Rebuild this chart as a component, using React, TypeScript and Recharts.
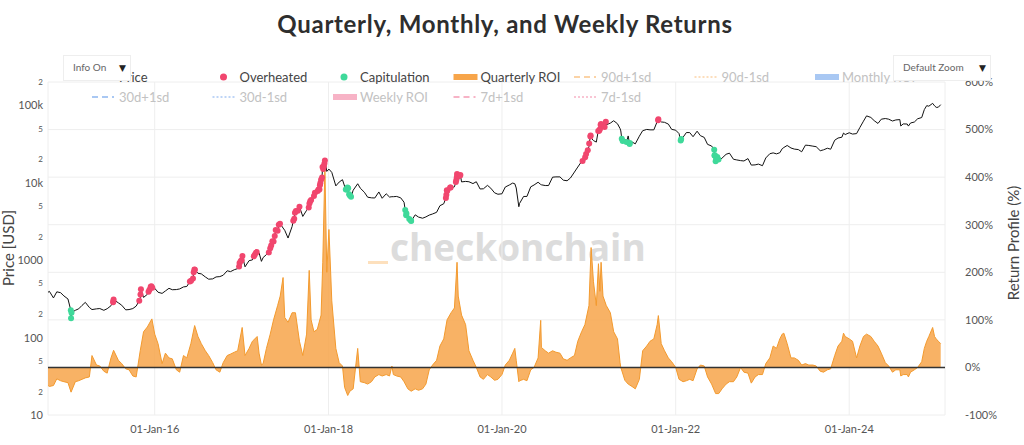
import { ComposedChart, Line, Area, Scatter, XAxis, YAxis, CartesianGrid, ReferenceLine } from 'recharts';

// sample dates (semi-monthly, plus a few peak / trough days)
const dates = [
  '2014-10-09', '2014-10-15', '2014-11-01', '2014-11-15', '2014-12-01', '2014-12-15',
  '2015-01-01', '2015-01-14', '2015-02-01', '2015-02-15', '2015-03-01', '2015-03-15', '2015-04-01', '2015-04-12', '2015-05-01', '2015-05-15', '2015-06-01', '2015-06-15', '2015-07-01', '2015-07-12', '2015-08-01', '2015-08-15', '2015-09-01', '2015-09-15', '2015-10-01', '2015-10-15', '2015-11-01', '2015-11-15', '2015-12-01', '2015-12-20',
  '2016-01-01', '2016-01-15', '2016-02-01', '2016-02-15', '2016-03-01', '2016-03-15', '2016-04-01', '2016-04-15', '2016-05-01', '2016-05-15', '2016-06-01', '2016-06-17', '2016-07-01', '2016-07-15', '2016-08-01', '2016-08-15', '2016-09-01', '2016-09-15', '2016-10-01', '2016-10-15', '2016-11-01', '2016-11-15', '2016-12-01', '2016-12-15',
  '2017-01-03', '2017-01-15', '2017-02-01', '2017-02-15', '2017-03-07', '2017-03-15', '2017-03-25', '2017-04-01', '2017-04-15', '2017-05-01', '2017-05-15', '2017-06-01', '2017-06-12', '2017-06-24', '2017-07-01', '2017-07-15', '2017-08-01', '2017-08-15', '2017-09-01', '2017-09-15', '2017-10-01', '2017-10-12', '2017-10-20', '2017-11-01', '2017-11-15', '2017-12-01', '2017-12-08', '2017-12-17', '2017-12-25',
  '2018-01-03', '2018-01-15', '2018-02-01', '2018-02-15', '2018-03-01', '2018-03-10', '2018-03-23', '2018-04-01', '2018-04-15', '2018-05-04', '2018-05-15', '2018-06-01', '2018-06-15', '2018-07-01', '2018-07-15', '2018-08-01', '2018-08-15', '2018-09-01', '2018-09-15', '2018-09-25', '2018-10-01', '2018-10-15', '2018-11-01', '2018-11-15', '2018-12-01', '2018-12-15',
  '2019-01-01', '2019-01-15', '2019-02-01', '2019-02-15', '2019-03-01', '2019-03-15', '2019-04-01', '2019-04-15', '2019-05-01', '2019-05-15', '2019-06-01', '2019-06-15', '2019-06-26', '2019-07-01', '2019-07-15', '2019-08-01', '2019-08-15', '2019-09-01', '2019-09-15', '2019-10-01', '2019-10-15', '2019-11-01', '2019-11-15', '2019-12-01', '2019-12-15',
  '2020-01-01', '2020-01-15', '2020-02-01', '2020-02-15', '2020-02-24', '2020-03-01', '2020-03-12', '2020-03-15', '2020-04-01', '2020-04-15', '2020-05-01', '2020-05-15', '2020-06-01', '2020-06-12', '2020-06-15', '2020-07-01', '2020-07-15', '2020-08-01', '2020-08-15', '2020-09-01', '2020-09-15', '2020-10-01', '2020-10-15', '2020-11-01', '2020-11-15', '2020-12-01', '2020-12-15',
  '2021-01-01', '2021-01-10', '2021-01-20', '2021-02-01', '2021-02-10', '2021-02-16', '2021-02-21', '2021-03-01', '2021-03-15', '2021-04-01', '2021-04-15', '2021-05-01', '2021-05-12', '2021-05-15', '2021-06-01', '2021-06-15', '2021-07-01', '2021-07-15', '2021-08-01', '2021-08-15', '2021-09-01', '2021-09-15', '2021-10-01', '2021-10-15', '2021-10-20', '2021-11-01', '2021-11-15', '2021-12-01', '2021-12-15',
  '2022-01-01', '2022-01-15', '2022-02-01', '2022-02-15', '2022-03-01', '2022-03-15', '2022-04-01', '2022-04-15', '2022-05-01', '2022-05-15', '2022-06-01', '2022-06-18', '2022-07-01', '2022-07-15', '2022-08-01', '2022-08-15', '2022-09-01', '2022-09-15', '2022-10-01', '2022-10-15', '2022-11-01', '2022-11-15', '2022-12-01', '2022-12-15',
  '2023-01-01', '2023-01-15', '2023-02-01', '2023-02-15', '2023-03-01', '2023-03-15', '2023-03-25', '2023-04-01', '2023-04-15', '2023-05-01', '2023-05-15', '2023-06-01', '2023-06-15', '2023-07-01', '2023-07-15', '2023-08-01', '2023-08-15', '2023-09-01', '2023-09-15', '2023-10-01', '2023-10-15', '2023-11-01', '2023-11-15', '2023-12-01', '2023-12-08', '2023-12-15',
  '2024-01-01', '2024-01-15', '2024-02-01', '2024-02-15', '2024-03-01', '2024-03-14', '2024-04-01', '2024-04-15', '2024-05-01', '2024-05-15', '2024-06-01', '2024-06-15', '2024-07-01', '2024-07-15', '2024-08-01', '2024-08-05', '2024-08-15', '2024-09-01', '2024-09-06', '2024-09-15', '2024-10-01', '2024-10-15', '2024-11-01', '2024-11-12', '2024-11-22', '2024-12-01', '2024-12-17', '2024-12-25',
  '2025-01-01', '2025-01-10', '2025-01-20',
];

// BTC price (USD)
const price = [
  385, 395, 325, 390, 380, 345,
  315, 178, 225, 235, 260, 285, 245, 230, 235, 237, 225, 236, 258, 310, 281, 262, 228, 230, 237, 255, 325, 330, 362, 440,
  434, 385, 372, 400, 433, 415, 417, 425, 451, 457, 536, 760, 676, 665, 607, 568, 573, 607, 613, 638, 729, 711, 753, 778,
  1030, 820, 985, 1008, 1250, 1245, 965, 1080, 1180, 1420, 1740, 2400, 2950, 2600, 2430, 1930, 2720, 4170, 4890, 3670, 4400, 5400, 6000, 6750, 7310, 10850, 16000, 19400, 14000,
  15000, 13600, 9100, 10200, 10950, 9000, 8700, 6850, 8000, 9700, 8500, 7540, 6500, 6380, 6350, 7600, 6300, 7200, 6530, 6600, 6600, 6650, 6380, 5600, 4200, 3250,
  3850, 3600, 3480, 3620, 3820, 3950, 4150, 5050, 5350, 8200, 8550, 8850, 12900, 10600, 10250, 10400, 10300, 9750, 10300, 8300, 8350, 9250, 8500, 7400, 7100,
  7200, 8800, 9350, 9900, 9700, 8550, 4900, 5400, 6650, 6650, 8850, 9350, 10150, 9500, 9400, 9200, 9200, 11800, 11900, 11900, 10800, 10600, 11500, 13750, 15950, 18800, 19400,
  29400, 38000, 35000, 33500, 44800, 49000, 57500, 49600, 56000, 58900, 63200, 57800, 50000, 46700, 36700, 40200, 33600, 31800, 39900, 47000, 48800, 48200, 48200, 61500, 66000, 61000, 60300, 57200, 48900,
  47700, 43100, 38700, 44500, 44400, 39300, 46300, 40500, 38500, 31300, 29800, 19000, 19300, 20800, 23300, 24100, 20100, 19700, 19300, 19100, 20500, 16900, 17000, 17400,
  16600, 20900, 23700, 24300, 23600, 24400, 27500, 28500, 30300, 28100, 27200, 26800, 25100, 30600, 30300, 29700, 29200, 25900, 26600, 27900, 27100, 35400, 37800, 38700, 43800, 41900,
  44200, 42500, 43100, 51800, 62400, 73000, 69700, 63400, 58300, 66200, 67500, 66200, 62700, 64700, 65400, 54000, 57500, 57300, 53900, 59100, 60800, 67000, 69500, 88000, 99000, 97400, 106000, 98500,
  94000, 94500, 102000,
];

// quarterly ROI (%)
const quarterlyRoi = [
  -38, -40, -38, -24, -28, -30,
  -32, -52, -30, -28, -25, -22, -20, 25, 5, 3, -8, -12, 20, 36, 15, 8, -3, -5, -18, -20, 35, 75, 85, 102,
  70, 50, 8, 30, 20, 18, -5, -10, 25, 20, 50, 88, 65, 50, 35, 25, 10, -5, -10, 10, 25, 28, 32, 35,
  84, 25, 40, 55, 65, 30, 5, 8, 40, 70, 100, 130, 150, 189, 105, 95, 115, 115, 55, 25, 70, 204, 100, 75, 80, 110, 220, 420, 200,
  290, 140, 40, 10, 3, -42, -59, -50, -45, 40, -30, -32, -35, -30, -20, -15, -18, -15, -18, 3, -15, -18, -20, -30, -45, -50,
  -45, -48, -45, -35, -5, 5, 15, 45, 60, 100, 115, 125, 221, 150, 110, 90, 35, 15, 0, -20, -25, -15, -20, -27, -25,
  -15, 5, 15, 30, 40, 15, -30, -28, -25, -28, -5, 0, 20, 99, 42, 35, 30, 35, 32, 30, 18, 15, 20, 25, 55, 75, 90,
  130, 252, 180, 130, 218, 160, 221, 150, 130, 115, 75, 60, 10, 0, -27, -35, -40, -45, -25, 35, 45, 55, 60, 90, 109, 50, 35, 20, 12,
  0, -25, -30, -28, -25, -28, -3, 5, 3, -20, -35, -55, -55, -45, -35, -30, -30, -20, 0, -10, -12, -33, -20, -15,
  -15, 8, 20, 45, 40, 60, 70, 72, 50, 20, 20, 15, 5, 8, 5, 5, 3, -8, -10, -5, -3, 25, 45, 55, 72, 65,
  60, 55, 20, 45, 65, 70, 65, 55, 45, 30, 10, 3, -10, -5, -5, -18, -15, -15, -20, -10, -5, 0, 12, 40, 55, 65, 84, 65,
  60, 55, 50,
];

// overheated days
const overheatedDates = [
  '2015-07-10', '2015-07-11', '2015-07-12', '2015-10-28', '2015-11-02', '2015-11-04', '2015-12-06', '2015-12-10', '2015-12-15', '2015-12-18', '2015-12-22',
  '2016-05-28', '2016-06-02', '2016-06-10', '2016-06-13', '2016-06-16', '2016-06-18', '2016-12-21', '2016-12-23', '2016-12-28',
  '2017-01-01', '2017-01-04', '2017-02-21', '2017-02-25', '2017-03-02', '2017-03-05', '2017-04-25', '2017-05-01', '2017-05-05', '2017-05-10', '2017-05-15', '2017-05-20', '2017-05-24', '2017-06-01', '2017-06-06', '2017-06-11',
  '2017-08-06', '2017-08-10', '2017-08-13', '2017-08-17', '2017-08-25', '2017-09-01', '2017-10-10', '2017-10-13', '2017-10-16', '2017-10-20',
  '2017-11-01', '2017-11-05', '2017-11-17', '2017-11-20', '2017-11-24', '2017-11-26', '2017-11-28', '2017-12-01', '2017-12-05', '2017-12-07', '2017-12-10', '2017-12-13', '2017-12-15', '2017-12-17',
  '2019-05-10', '2019-05-12', '2019-05-14', '2019-05-16', '2019-05-28', '2019-05-30', '2019-06-21', '2019-06-23', '2019-06-25', '2019-06-26', '2019-06-28', '2019-07-08', '2019-07-10',
  '2020-12-05', '2020-12-16', '2020-12-20', '2020-12-27', '2021-01-02', '2021-01-07', '2021-01-08',
  '2021-02-09', '2021-02-13', '2021-02-16', '2021-02-19', '2021-02-21', '2021-03-08', '2021-03-13', '2021-10-19', '2021-10-20',
];
const overheatedPrice = [
  285, 295, 310, 300, 360, 420, 390, 415, 455, 460, 440,
  530, 540, 580, 700, 760, 750, 830, 920, 975,
  1000, 1130, 1120, 1170, 1250, 1270, 1260, 1420, 1550, 1760, 1740, 2050, 2450, 2400, 2870, 2950,
  3230, 3420, 4100, 4300, 4350, 4900, 4800, 5400, 5750, 6000,
  6750, 7400, 7800, 8200, 8200, 9300, 9900, 10900, 11700, 16000, 15000, 16400, 17700, 19400,
  6350, 7000, 8000, 7900, 8700, 8660, 10200, 10850, 11800, 13000, 12400, 12300, 12600,
  19150, 21300, 23500, 26300, 32200, 39400, 40700,
  46500, 47000, 49000, 55900, 57500, 52300, 61200, 64300, 66000,
];

// capitulation days
const capitulationDates = [
  '2015-01-13', '2015-01-14', '2015-01-16',
  '2018-03-15', '2018-03-18', '2018-03-22', '2018-03-25', '2018-03-29', '2018-04-01', '2018-04-06',
  '2018-11-20', '2018-11-24', '2018-11-25', '2018-12-07', '2018-12-14', '2018-12-15',
  '2021-05-19', '2021-05-23', '2021-06-08', '2021-06-21', '2021-06-22', '2022-01-22', '2022-01-24',
  '2022-06-12', '2022-06-13', '2022-06-15', '2022-06-18', '2022-06-20', '2022-06-25', '2022-06-30',
];
const capitulationPrice = [
  225, 178, 210,
  8200, 8200, 8700, 8500, 7100, 6850, 6600,
  4450, 3800, 4000, 3400, 3250, 3200,
  37000, 34700, 33500, 31600, 32500, 35000, 36600,
  26700, 22500, 22600, 19000, 20600, 21500, 19900,
];

const priceTicks = [10, 20, 50, 100, 200, 500, 1000, 2000, 5000, 10000, 20000, 50000, 100000, 200000];
const roiTicks = [-100, 0, 100, 200, 300, 400, 500, 600];
const dateTicks = ['2016-01-01', '2018-01-01', '2020-01-01', '2022-01-01', '2024-01-01'];
const xStart = '2014-10-09';
const xEnd = '2025-02-07';

const toTime = (d: string) => Date.parse(d + 'T00:00:00Z');
const MONTHS = ['Jan', 'Feb', 'Mar', 'Apr', 'May', 'Jun', 'Jul', 'Aug', 'Sep', 'Oct', 'Nov', 'Dec'];
const fmtDate = (t: number) => {
  const d = new Date(t);
  return `${String(d.getUTCDate()).padStart(2, '0')}-${MONTHS[d.getUTCMonth()]}-${String(d.getUTCFullYear()).slice(2)}`;
};

const roiRows = dates.map((d, i) => ({ t: toTime(d), roi: quarterlyRoi[i] }));
const overheated = overheatedDates.map((d, i) => ({ t: toTime(d), price: overheatedPrice[i] }));
const capitulation = capitulationDates.map((d, i) => ({ t: toTime(d), price: capitulationPrice[i] }));
// price line passes through the flagged days too
const priceRows = [...dates.map((d, i) => ({ t: toTime(d), price: price[i] })), ...overheated, ...capitulation].sort(
  (a, b) => a.t - b.t
);

const FONT = 'Lato, "Open Sans", sans-serif';

const PriceTick = (props: any) => {
  const { x, y, payload } = props;
  const v: number = payload.value;
  const lead = String(v)[0];
  const decade = lead === '1';
  const label = !decade ? lead : v >= 10000 ? `${v / 1000}k` : String(v);
  return (
    <text x={x} y={y} dy={decade ? 4 : 3} textAnchor="end" fontSize={decade ? 11 : 8} fill="#555" fontFamily={FONT}>
      {label}
    </text>
  );
};

const redDot = (p: any) => <circle cx={p.cx} cy={p.cy} r={3} fill="#f1466e" />;
const greenDot = (p: any) => <circle cx={p.cx} cy={p.cy} r={3} fill="#3fd99a" />;

// legend entries: [label, symbol, colour, shown]
const legendRow1: [string, string, string, boolean][] = [
  ['Price', 'line', '#000', true],
  ['Overheated', 'dot', '#f1466e', true],
  ['Capitulation', 'dot', '#3fd99a', true],
  ['Quarterly ROI', 'bar', '#f7a54a', true],
  ['90d+1sd', 'dash', '#fbd3a6', false],
  ['90d-1sd', 'dotted', '#fbd3a6', false],
  ['Monthly ROI', 'bar', '#a9c8f3', false],
];
const legendRow2: [string, string, string, boolean][] = [
  ['30d+1sd', 'dash', '#a9c8f3', false],
  ['30d-1sd', 'dotted', '#a9c8f3', false],
  ['Weekly ROI', 'bar', '#f7b3c6', false],
  ['7d+1sd', 'dash', '#f7b3c6', false],
  ['7d-1sd', 'dotted', '#f7b3c6', false],
];

const LegendItem = ({ item, x, y }: { item: [string, string, string, boolean]; x: number; y: number }) => {
  const [name, sym, color, on] = item;
  let mark = null;
  if (sym === 'line') mark = <line x1={x} x2={x + 22} y1={y} y2={y} stroke={color} strokeWidth={2} />;
  if (sym === 'dot') mark = <circle cx={x + 11} cy={y} r={3.5} fill={color} />;
  if (sym === 'bar') mark = <rect x={x} y={y - 3} width={24} height={6} fill={color} />;
  if (sym === 'dash') mark = <line x1={x} x2={x + 22} y1={y} y2={y} stroke={color} strokeWidth={2} strokeDasharray="6,4" />;
  if (sym === 'dotted') mark = <line x1={x} x2={x + 22} y1={y} y2={y} stroke={color} strokeWidth={1.5} strokeDasharray="2,2" />;
  return (
    <g>
      {mark}
      <text x={x + 27} y={y + 4.5} fontSize={13} fill={on ? '#444' : '#c2c2c2'} fontFamily={FONT}>
        {name}
      </text>
    </g>
  );
};

export default function App() {
  return (
    <div style={{ position: 'absolute', left: 0, top: 0, width: 1024, height: 445, background: '#fff', overflow: 'hidden' }}>
      {/* watermark sits behind the data */}
      <svg width={1024} height={445} style={{ position: 'absolute', left: 0, top: 0 }}>
        <rect x={368} y={261} width={20} height={3} fill="#fde0bd" />
        <text x={390} y={261} fontSize={37} fontWeight={700} fill="#dcdcdc" fontFamily='"Open Sans", sans-serif'>
          checkonchain
        </text>
      </svg>
      <div style={{ position: 'absolute', left: 0, top: 0 }}>
        <ComposedChart width={1024} height={445} margin={{ top: 82, right: 0, bottom: 0, left: 0 }}>
          <CartesianGrid yAxisId="right" stroke="#eeeeee" />
          <XAxis
            dataKey="t"
            type="number"
            domain={[toTime(xStart), toTime(xEnd)]}
            allowDataOverflow
            ticks={dateTicks.map(toTime)}
            tickFormatter={fmtDate}
            height={30}
            axisLine={false}
            tickLine={false}
            tickSize={0}
            tickMargin={10}
            tick={{ fontSize: 11, fill: '#555', fontFamily: FONT }}
          />
          <YAxis
            yAxisId="left"
            scale="log"
            domain={[10, 200000]}
            allowDataOverflow
            ticks={priceTicks}
            tick={<PriceTick />}
            width={48}
            axisLine={false}
            tickLine={false}
            tickSize={0}
            tickMargin={5}
            interval={0}
          />
          <YAxis
            yAxisId="right"
            orientation="right"
            domain={[-100, 600]}
            allowDataOverflow
            ticks={roiTicks}
            tickFormatter={(v: number) => `${v}%`}
            width={79}
            axisLine={false}
            tickLine={false}
            tickSize={0}
            tickMargin={20}
            interval={0}
            tick={{ fontSize: 11, fill: '#555', fontFamily: FONT }}
          />
          <Area
            yAxisId="right"
            data={roiRows}
            dataKey="roi"
            type="linear"
            baseValue={0}
            fill="#f7a54a"
            fillOpacity={0.85}
            stroke="#f39a2e"
            strokeWidth={1}
            isAnimationActive={false}
          />
          <ReferenceLine yAxisId="right" y={0} stroke="#333" strokeWidth={1.5} />
          <Line
            yAxisId="left"
            data={priceRows}
            dataKey="price"
            type="linear"
            stroke="#111"
            strokeWidth={1}
            dot={false}
            isAnimationActive={false}
          />
          <Scatter yAxisId="left" data={overheated} dataKey="price" shape={redDot} isAnimationActive={false} />
          <Scatter yAxisId="left" data={capitulation} dataKey="price" shape={greenDot} isAnimationActive={false} />
        </ComposedChart>
      </div>
      {/* title, axis titles, legend and the two menu boxes */}
      <svg width={1024} height={445} style={{ position: 'absolute', left: 0, top: 0, pointerEvents: 'none' }}>
        <text
          x={505}
          y={33}
          textAnchor="middle"
          fontSize={24}
          fontWeight={700}
          letterSpacing={0.7}
          fill="#2e2e2e"
          fontFamily={FONT}
        >
          Quarterly, Monthly, and Weekly Returns
        </text>
        <text transform="translate(14,248) rotate(-90)" textAnchor="middle" fontSize={15} fill="#444" fontFamily={FONT}>
          Price [USD]
        </text>
        <text transform="translate(1019,243) rotate(-90)" textAnchor="middle" fontSize={15} fill="#444" fontFamily={FONT}>
          Return Profile (%)
        </text>
        {legendRow1.map((it, i) => (
          <LegendItem key={it[0]} item={it} x={92 + i * 120.5} y={77} />
        ))}
        {legendRow2.map((it, i) => (
          <LegendItem key={it[0]} item={it} x={92 + i * 120.5} y={97} />
        ))}
        <rect x={63.5} y={55.5} width={67} height={25} fill="#fff" stroke="#eeeeee" />
        <text x={73} y={71} fontSize={10} fill="#666" fontFamily={FONT}>
          Info On
        </text>
        <text x={119} y={71} fontSize={9} fill="#222" fontFamily="DejaVu Sans">
          ▼
        </text>
        <rect x={893.5} y={55.5} width={97} height={25} fill="#fff" stroke="#eeeeee" />
        <text x={903} y={71} fontSize={10} fill="#666" fontFamily={FONT}>
          Default Zoom
        </text>
        <text x={979} y={71} fontSize={9} fill="#222" fontFamily="DejaVu Sans">
          ▼
        </text>
      </svg>
    </div>
  );
}
